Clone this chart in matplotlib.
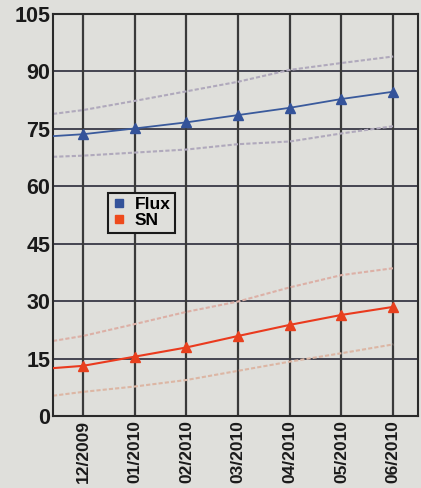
import matplotlib.pyplot as plt

# Monate und Werte
months = ['12/2009', '01/2010', '02/2010', '03/2010', '04/2010', '05/2010', '06/2010']
flux = [73.6, 75.1, 76.7, 78.6, 80.5, 82.8, 84.7]
flux_upper = [79.9, 82.3, 84.8, 87.3, 90.4, 92.2, 93.9]
flux_lower = [68.0, 68.8, 69.6, 71.0, 71.7, 73.8, 75.7]
sn = [13.1, 15.5, 17.9, 20.9, 23.8, 26.4, 28.5]
sn_upper = [20.9, 24.0, 27.2, 29.9, 33.6, 36.8, 38.6]
sn_lower = [6.3, 7.7, 9.4, 11.8, 14.2, 16.4, 18.7]

# Startwerte der Linien am linken Rand
flux_start = 73.1
sn_start = 12.5
flux_upper_start = 78.9
flux_lower_start = 67.7
sn_upper_start = 19.6
sn_lower_start = 5.3

yticks = [0, 15, 30, 45, 60, 75, 90, 105]

bg = '#dfdfdb'
x_left = -0.58
x = list(range(len(months)))
xs = [x_left] + x

fig = plt.figure(figsize=(4.21, 4.88), dpi=100, facecolor=bg)
ax = fig.add_axes([53 / 421, 72 / 488, 365 / 421, 402 / 488], facecolor=bg)

# Gitter
for y in yticks[1:-1]:
    ax.axhline(y, color='#2a2a3a', lw=1.2, zorder=1)
for xi in x:
    ax.axvline(xi, color='#3a3a3a', lw=1.6, zorder=1)

# Bänder (gestrichelt)
ax.plot(xs, [flux_upper_start] + flux_upper, color='#b0a9bc', lw=1.5, ls=(0, (2, 1)), zorder=2)
ax.plot(xs, [flux_lower_start] + flux_lower, color='#b0a9bc', lw=1.5, ls=(0, (2, 1)), zorder=2)
ax.plot(xs, [sn_upper_start] + sn_upper, color='#dcb0a6', lw=1.5, ls=(0, (2, 1)), zorder=2)
ax.plot(xs, [sn_lower_start] + sn_lower, color='#dcb6a4', lw=1.5, ls=(0, (2, 1)), zorder=2)

# Hauptlinien
ax.plot(xs, [flux_start] + flux, color='#3a5a9c', lw=1.3, zorder=3)
ax.plot(x, flux, ls='none', marker='^', ms=6.5, color='#34539a', zorder=4)
ax.plot(xs, [sn_start] + sn, color='#ea3a1e', lw=1.5, zorder=3)
ax.plot(x, sn, ls='none', marker='^', ms=6.5, color='#e8401e', zorder=4)

# Legende
h1, = ax.plot([], [], ls='none', marker='s', ms=6, color='#34539a', label='Flux')
h2, = ax.plot([], [], ls='none', marker='s', ms=6, color='#ee4a1c', label='SN')
leg = ax.legend(handles=[h1, h2], loc='upper left', bbox_to_anchor=(0.151, 0.555),
                borderaxespad=0, frameon=True, fancybox=False, handlelength=0.8,
                handletextpad=0.5, borderpad=0.25, labelspacing=0.05,
                prop={'family': 'Liberation Sans', 'weight': 'bold', 'size': 12.5})
leg.get_frame().set_edgecolor('#1a1a1a')
leg.get_frame().set_linewidth(1.5)
leg.get_frame().set_facecolor(bg)
leg.get_frame().set_alpha(1)

ax.set_xlim(x_left, 6.48)
ax.set_ylim(0, 105)
ax.set_yticks(yticks)
ax.set_xticks(x)
ax.set_xticklabels(months, rotation=90, fontfamily='Liberation Sans', fontweight='bold', fontsize=12.5)
ax.set_yticklabels([str(v) for v in yticks], fontfamily='Liberation Sans', fontweight='bold', fontsize=15.5)
ax.tick_params(axis='both', length=0, colors='#1a1a1a')
ax.tick_params(axis='x', pad=3)
ax.tick_params(axis='y', pad=2)
for s in ax.spines.values():
    s.set_color('#2a2a2a')
    s.set_linewidth(1.5)

fig.savefig('out.png', dpi=100, facecolor=bg)
